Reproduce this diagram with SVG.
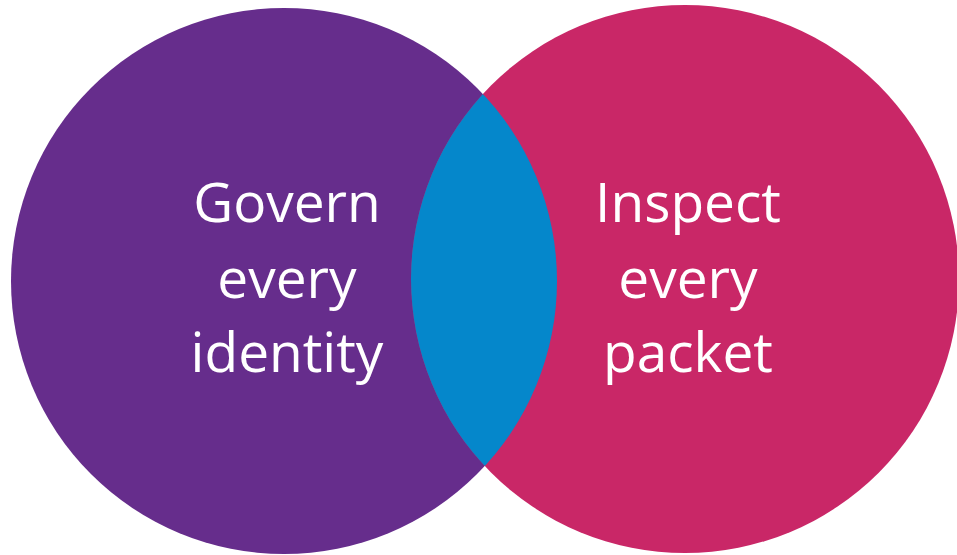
<svg xmlns="http://www.w3.org/2000/svg" width="957" height="555" viewBox="0 0 957 555">
<style>
.lbl{font-family:"Open Sans","Liberation Sans",sans-serif;font-size:55px;fill:#ffffff;text-anchor:middle}
</style>
<defs>
<clipPath id="clipLeft"><circle cx="284" cy="281" r="273"/></clipPath>
</defs>
<rect width="957" height="555" fill="#ffffff"/>
<g id="left-circle">
<circle cx="284" cy="281" r="273" fill="#662D8C"/>
</g>
<g id="right-circle">
<circle cx="685" cy="279" r="274" fill="#C92767"/>
</g>
<g id="overlap">
<circle cx="685" cy="279" r="274" fill="#0587CB" clip-path="url(#clipLeft)"/>
</g>
<g id="left-label">
<text class="lbl" x="287" y="222">Govern</text>
<text class="lbl" x="287" y="298">every</text>
<text class="lbl" x="287" y="372">identity</text>
</g>
<g id="right-label">
<text class="lbl" x="688" y="222">Inspect</text>
<text class="lbl" x="688" y="298">every</text>
<text class="lbl" x="688" y="372">packet</text>
</g>
<g id="connectors"></g>
</svg>
